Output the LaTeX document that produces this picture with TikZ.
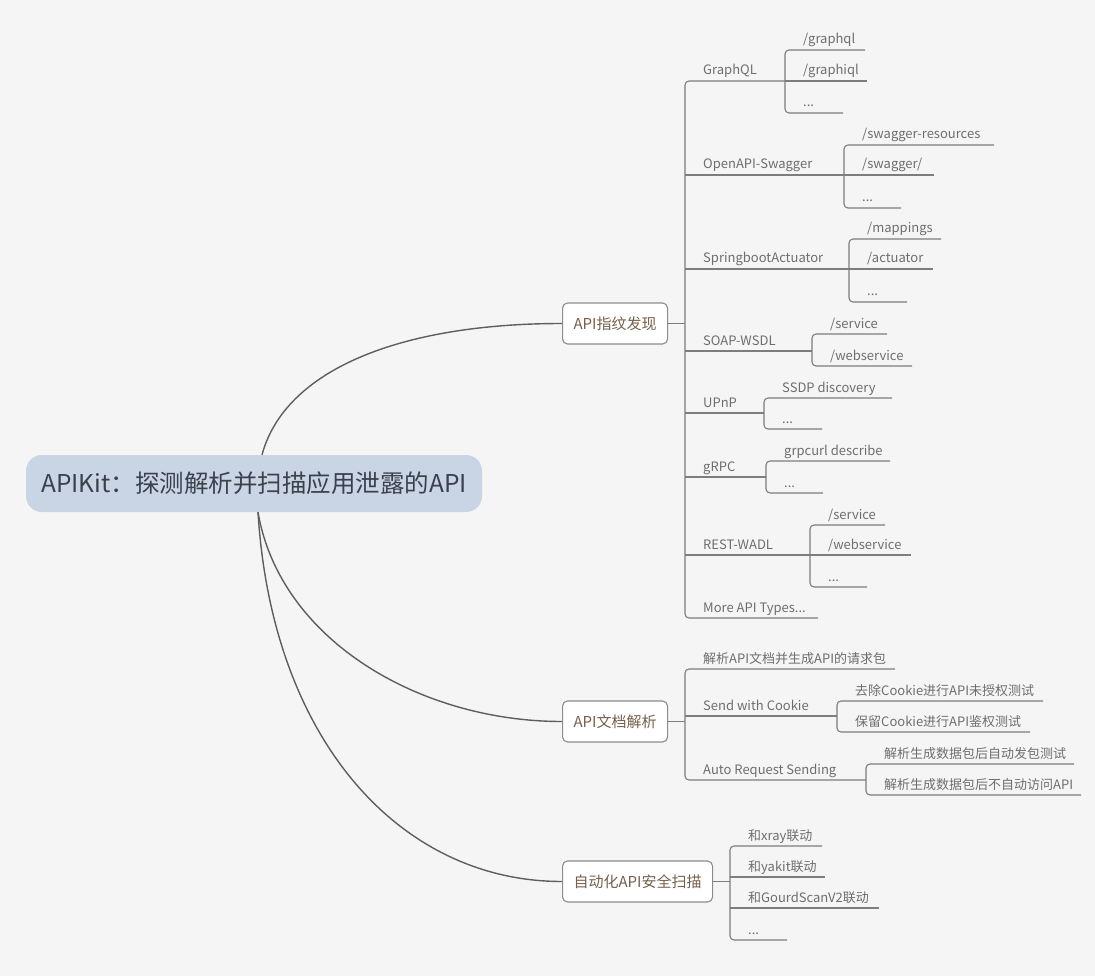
\documentclass[tikz,border=0pt]{standalone}
\usepackage{fontspec}
\setmainfont{Noto Sans CJK SC}
\usepackage{xcolor}
\usepackage{tikz}
\definecolor{paperGray}{HTML}{F5F5F5}
\definecolor{rootBlue}{HTML}{C9D4E5}
\definecolor{rootText}{HTML}{3B404B}
\definecolor{topicEdge}{HTML}{8C8C8C}
\definecolor{topicText}{HTML}{76604B}
\definecolor{leafText}{HTML}{6E6E6E}
\definecolor{twigGray}{HTML}{7D7D7D}
\definecolor{boughGray}{HTML}{5E5E5E}
% leaf label sitting on its underline: name, spine x, y, end x, text
\newcommand{\leaf}[5]{%
  \coordinate (#1-l) at (#2,#3);
  \coordinate (#1-r) at (#4,#3);
  \node[leaf] (#1) at ([shift={(18,-6)}]#1-l) {#5};}

\begin{document}
\begin{tikzpicture}[
  x=1pt, y=-1pt,
  root/.style={fill=rootBlue, rounded corners=16pt, text=rootText,
               font=\fontsize{24.5}{28}\selectfont,
               minimum width=456pt, minimum height=57pt},
  topic/.style={draw=topicEdge, line width=1.1pt, rounded corners=5pt, fill=white,
                text=topicText, font=\fontsize{15}{18}\selectfont,
                minimum height=41pt, inner xsep=11pt, anchor=west},
  leaf/.style={anchor=base west, inner sep=0pt, text=leafText,
               font=\fontsize{13}{15}\selectfont},
  twig/.style={draw=twigGray, line width=1.1pt, rounded corners=4pt},
  bough/.style={draw=boughGray, line width=1.4pt}
]
\fill[paperGray] (0,0) rectangle (1095,976);

\node[root] (root) at (254,483.5) {APIKit：探测解析并扫描应用泄露的API};
\node[topic] (fp) at (562,323.5) {API指纹发现};
\node[topic] (doc) at (562,721.5) {API文档解析};
\node[topic] (scan) at (562,881.5) {自动化API安全扫描};

\draw[bough] ([xshift=8pt]root.north) .. controls +(23,-85) and +(-162,0) .. (fp.west);
\draw[bough] ([xshift=4pt]root.south) .. controls +(22,128) and +(-142,0) .. (doc.west);
\draw[bough] ([xshift=4pt]root.south) .. controls +(14,228) and +(-162,0) .. (scan.west);

% API fingerprints
\leaf{gq}{685}{81}{785}{GraphQL}
\leaf{gq1}{785}{50}{865}{/graphql}
\leaf{gq2}{785}{81}{867}{/graphiql}
\leaf{gq3}{785}{113}{843}{...}
\leaf{oa}{685}{175}{844}{OpenAPI-Swagger}
\leaf{oa1}{844}{145}{994}{/swagger-resources}
\leaf{oa2}{844}{175}{934}{/swagger/}
\leaf{oa3}{844}{208}{901}{...}
\leaf{sb}{685}{269}{849}{SpringbootActuator}
\leaf{sb1}{849}{239}{941}{/mappings}
\leaf{sb2}{849}{269}{933}{/actuator}
\leaf{sb3}{849}{302}{907}{...}
\leaf{so}{685}{351}{812}{SOAP-WSDL}
\leaf{so1}{812}{334}{887}{/service}
\leaf{so2}{812}{366}{912}{/webservice}
\leaf{up}{685}{413}{764}{UPnP}
\leaf{up1}{764}{398}{892}{SSDP discovery}
\leaf{up2}{764}{429}{822}{...}
\leaf{gr}{685}{477}{766}{gRPC}
\leaf{gr1}{766}{461}{890}{grpcurl describe}
\leaf{gr2}{766}{493}{823}{...}
\leaf{rw}{685}{555}{810}{REST-WADL}
\leaf{rw1}{810}{525}{885}{/service}
\leaf{rw2}{810}{555}{911}{/webservice}
\leaf{rw3}{810}{587}{867}{...}
\leaf{more}{685}{618}{818}{More API Types...}

\draw[twig] (fp.east) -- (fp.east -| gq-l);
\draw[twig] (gq-r) -- (gq-l) -- (more-l) -- (more-r);
\foreach \k in {oa,sb,so,up,gr,rw} \draw[twig] (\k-l) -- (\k-r);
\draw[twig] (gq1-r) -- (gq1-l) -- (gq3-l) -- (gq3-r);
\draw[twig] (oa1-r) -- (oa1-l) -- (oa3-l) -- (oa3-r);
\draw[twig] (sb1-r) -- (sb1-l) -- (sb3-l) -- (sb3-r);
\draw[twig] (so1-r) -- (so1-l) -- (so2-l) -- (so2-r);
\draw[twig] (up1-r) -- (up1-l) -- (up2-l) -- (up2-r);
\draw[twig] (gr1-r) -- (gr1-l) -- (gr2-l) -- (gr2-r);
\draw[twig] (rw1-r) -- (rw1-l) -- (rw3-l) -- (rw3-r);
\foreach \k in {gq2,oa2,sb2,rw2} \draw[twig] (\k-l) -- (\k-r);

% API documents
\leaf{dp}{685}{669}{895}{解析API文档并生成API的请求包}
\leaf{sc}{685}{716}{837}{Send with Cookie}
\leaf{sc1}{837}{701}{1043}{去除Cookie进行API未授权测试}
\leaf{sc2}{837}{732}{1030}{保留Cookie进行API鉴权测试}
\leaf{ar}{685}{780}{866}{Auto Request Sending}
\leaf{ar1}{866}{764}{1074}{解析生成数据包后自动发包测试}
\leaf{ar2}{866}{795}{1081}{解析生成数据包后不自动访问API}

\draw[twig] (doc.east) -- (doc.east -| dp-l);
\draw[twig] (dp-r) -- (dp-l) -- (ar-l) -- (ar-r);
\draw[twig] (sc-l) -- (sc-r);
\draw[twig] (sc1-r) -- (sc1-l) -- (sc2-l) -- (sc2-r);
\draw[twig] (ar1-r) -- (ar1-l) -- (ar2-l) -- (ar2-r);

% scanning
\leaf{xr}{730}{846}{822}{和xray联动}
\leaf{yk}{730}{877}{825}{和yakit联动}
\leaf{gs}{730}{908}{879}{和GourdScanV2联动}
\leaf{etc}{730}{940}{787}{...}

\draw[twig] (scan.east) -- (scan.east -| xr-l);
\draw[twig] (xr-r) -- (xr-l) -- (etc-l) -- (etc-r);
\draw[twig] (yk-l) -- (yk-r);
\draw[twig] (gs-l) -- (gs-r);
\end{tikzpicture}
\end{document}
